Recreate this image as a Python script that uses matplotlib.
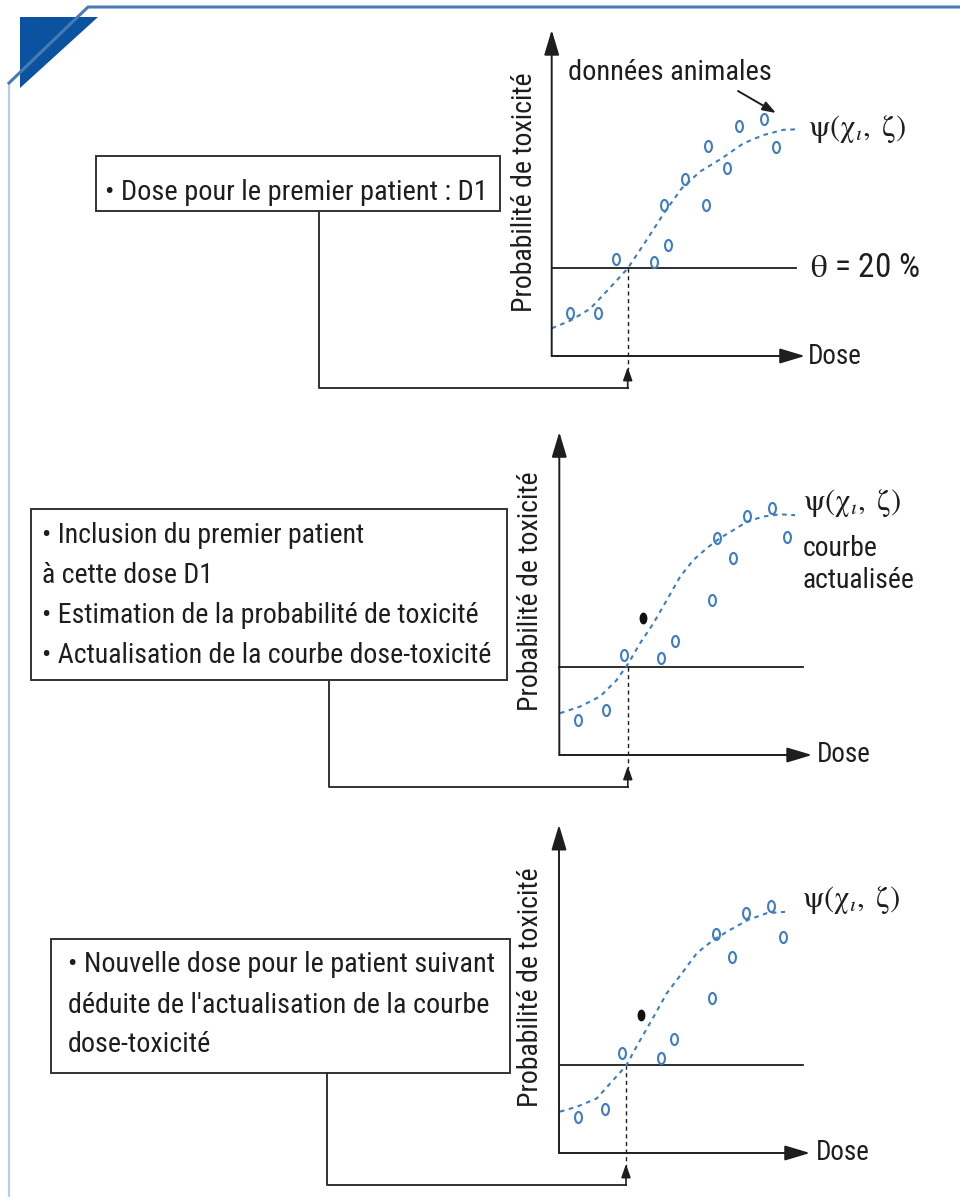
import matplotlib
matplotlib.use('Agg')
import matplotlib.pyplot as plt
from matplotlib import font_manager as fm
from matplotlib.path import Path
from matplotlib.transforms import Affine2D
from matplotlib.patches import Polygon, Rectangle

# ---------------- data (dose in arbitrary units, probability of toxicity) ----------------
THETA = 0.20                      # target toxicity threshold
D1 = [3.04, 2.74, 2.68]           # dose where the curve crosses theta, per panel

# panel 1 : animal data + initial curve
p1_dose = [0.73, 1.85, 2.57, 4.09, 4.65, 4.49, 6.17, 5.33, 6.25, 7.01, 7.49, 8.49, 8.97]
p1_tox = [0.098, 0.098, 0.220, 0.214, 0.252, 0.343, 0.343, 0.402, 0.477, 0.427, 0.523, 0.539, 0.475]
p1_curve_dose = [0.0, 0.73, 1.53, 2.33, 3.04, 3.80, 4.53, 5.20, 5.93, 6.80, 7.66, 8.46, 9.26, 9.73]
p1_curve_tox = [0.063, 0.080, 0.107, 0.155, 0.199, 0.264, 0.328, 0.381, 0.419, 0.449, 0.483, 0.502, 0.514, 0.515]

# panel 2 : first patient included, updated curve
p2_dose = [0.75, 1.87, 2.59, 4.07, 4.63, 6.11, 6.95, 6.31, 7.51, 8.51, 9.11]
p2_tox = [0.080, 0.102, 0.227, 0.220, 0.259, 0.352, 0.448, 0.493, 0.543, 0.561, 0.495]
p2_patient = (3.35, 0.311)
p2_curve_dose = [0.03, 0.83, 1.63, 2.29, 2.76, 3.23, 3.76, 4.30, 4.83, 5.36, 5.90, 6.43, 6.96, 7.50, 8.16, 8.83, 9.43]
p2_curve_tox = [0.095, 0.110, 0.133, 0.170, 0.208, 0.254, 0.299, 0.352, 0.405, 0.443, 0.470, 0.493, 0.511, 0.530, 0.542, 0.547, 0.545]

# panel 3 : next dose deduced
p3_dose = [0.76, 1.84, 2.52, 4.08, 4.60, 6.12, 6.92, 6.28, 7.48, 8.48, 8.96]
p3_tox = [0.082, 0.100, 0.227, 0.216, 0.259, 0.352, 0.445, 0.498, 0.545, 0.561, 0.491]
p3_patient = (3.28, 0.314)
p3_curve_dose = [0.04, 0.71, 1.51, 2.17, 2.68, 3.17, 3.71, 4.31, 4.91, 5.51, 6.17, 6.84, 7.57, 8.31, 9.04]
p3_curve_tox = [0.094, 0.105, 0.124, 0.166, 0.198, 0.249, 0.302, 0.363, 0.408, 0.454, 0.484, 0.507, 0.530, 0.545, 0.548]

box1_lines = ["• Dose pour le premier patient : D1"]
box2_lines = ["• Inclusion du premier patient", "à cette dose D1",
              "• Estimation de la probabilité de toxicité",
              "• Actualisation de la courbe dose-toxicité"]
box3_lines = ["• Nouvelle dose pour le patient suivant",
              "déduite de l'actualisation de la courbe", "dose-toxicité"]
ylabel = "Probabilité de toxicité"
xlabel = "Dose"

# ---------------- style / layout ----------------
W, H = 960, 1197
SX, SY = 25.0, 440.0   # pixels per dose unit / per probability unit
BLUE = '#3f7dc0'
INK = '#1e1e1e'

avail = {f.name for f in fm.fontManager.ttflist}
FONT = 'Liberation Sans'
for cand in ['Roboto Condensed', 'Open Sans Condensed', 'Noto Sans Condensed',
             'Liberation Sans Narrow', 'Arial Narrow']:
    if cand in avail:
        FONT = cand
        break
plt.rcParams['font.family'] = [FONT, 'DejaVu Sans']
plt.rcParams['mathtext.fontset'] = 'stix'

fig = plt.figure(figsize=(W / 100, H / 100), dpi=100)
fig.patch.set_facecolor('white')
ov = fig.add_axes([0, 0, 1, 1])
ov.set_xlim(0, W)
ov.set_ylim(H, 0)
ov.axis('off')

# decoration top-left
ov.plot([9, 9], [83, H], color='#bccde0', lw=1.6, solid_capstyle='butt')
ov.plot([9, 88, W], [83, 7, 7], color='#4a7ab4', lw=2.2)
ov.add_patch(Polygon([(20, 17), (98, 17), (20, 88)], closed=True, color='#0b53a0', lw=0))

# oval "o" marker
oval = Path.unit_circle().transformed(Affine2D().scale(0.62, 1.0))

panels = [
    dict(x0=551.7, y0=356, xmax=10.13, ymax=0.741, thr_end=9.77,
         dose=p1_dose, tox=p1_tox, cd=p1_curve_dose, ct=p1_curve_tox, pat=None),
    dict(x0=559.3, y0=755, xmax=10.11, ymax=0.734, thr_end=9.75,
         dose=p2_dose, tox=p2_tox, cd=p2_curve_dose, ct=p2_curve_tox, pat=p2_patient),
    dict(x0=559.0, y0=1153, xmax=10.04, ymax=0.746, thr_end=9.76,
         dose=p3_dose, tox=p3_tox, cd=p3_curve_dose, ct=p3_curve_tox, pat=p3_patient),
]

axes = []
for i, P in enumerate(panels):
    wpx, hpx = P['xmax'] * SX, P['ymax'] * SY
    ax = fig.add_axes([P['x0'] / W, (H - P['y0']) / H, wpx / W, hpx / H])
    ax.set_xlim(0, P['xmax'])
    ax.set_ylim(0, P['ymax'])
    ax.axis('off')
    ax.patch.set_visible(False)
    # axes arrows
    arr = dict(arrowstyle='-|>,head_length=1.1,head_width=0.33', color=INK, lw=1.4,
               shrinkA=0, shrinkB=0, mutation_scale=14)
    ax.annotate('', xy=(P['xmax'], 0), xytext=(0, 0), arrowprops=arr, annotation_clip=False)
    ax.annotate('', xy=(0, P['ymax']), xytext=(0, 0), arrowprops=arr, annotation_clip=False)
    # threshold line
    ax.plot([0, P['thr_end']], [THETA, THETA], color=INK, lw=1.3, clip_on=False)
    # dashed vertical at D1
    ax.plot([D1[i], D1[i]], [THETA, -0.03], color=INK, lw=1.0, ls=(0, (3, 2.5)), clip_on=False)
    # curve
    ax.plot(P['cd'], P['ct'], color=BLUE, lw=1.5, ls=(0, (2.2, 2.2)), clip_on=False)
    # data points
    ax.plot(P['dose'], P['tox'], ls='none', marker=oval, ms=8, mfc='none', mec=BLUE,
            mew=1.5, clip_on=False)
    if P['pat'] is not None:
        ax.plot([P['pat'][0]], [P['pat'][1]], ls='none', marker=oval, ms=7.5,
                mfc='#111111', mec='#111111', clip_on=False)
    axes.append(ax)

fig.canvas.draw()
R = fig.canvas.get_renderer()


def fit(t, target):
    bb = t.get_window_extent(R)
    t.set_fontsize(t.get_fontsize() * target / bb.width)


# ---- boxes and connectors ----
boxes = [
    dict(rect=(96, 156, 500, 211), lines=box1_lines, x=105, base=[200], target=383,
         cx=319, cy=388),
    dict(rect=(31, 509, 507, 680), lines=box2_lines, x=42, base=[543, 583, 623, 663],
         target=451, cx=329, cy=787),
    dict(rect=(51, 939, 510, 1073), lines=box3_lines, x=68, base=[972, 1013, 1052],
         target=427, cx=327, cy=1185),
]
for i, B in enumerate(boxes):
    x1, y1, x2, y2 = B['rect']
    ov.add_patch(Rectangle((x1, y1), x2 - x1, y2 - y1, fill=False, ec='#333333', lw=1.4))
    ts = [ov.text(B['x'], b, s, fontsize=18, color=INK, ha='left', va='baseline')
          for s, b in zip(B['lines'], B['base'])]
    longest = max(ts, key=lambda t: t.get_window_extent(R).width)
    scale = B['target'] / longest.get_window_extent(R).width
    for t in ts:
        t.set_fontsize(18 * scale)
    # connector
    P = panels[i]
    xd = P['x0'] + D1[i] * SX
    ov.plot([B['cx'], B['cx'], xd], [y2, B['cy'], B['cy']], color='#333333', lw=1.4)
    ov.annotate('', xy=(xd, B['cy'] - 21), xytext=(xd, B['cy']),
                arrowprops=dict(arrowstyle='-|>,head_length=1.0,head_width=0.35', color=INK,
                                lw=1.2, shrinkA=0, shrinkB=0, mutation_scale=8))

# ---- panel labels ----
ylab_pos = [(524, 192), (531, 591), (531, 987)]
for (x, y) in ylab_pos:
    t = ov.text(x, y, ylabel, rotation=90, ha='center', va='center', fontsize=18, color=INK)
    bb = t.get_window_extent(R)
    t.set_fontsize(18 * 240 / bb.height)

dose_pos = [(808, 356), (817, 755), (816, 1153)]
for (x, y) in dose_pos:
    t = ov.text(x, y, xlabel, ha='left', va='center', fontsize=18, color=INK)
    fit(t, 54)

psi = r'$\mathrm{\psi}(\mathrm{\chi}_{\iota},\ \mathrm{\zeta})$'
psi_pos = [(808, 129), (803, 503), (802, 900)]
for (x, y) in psi_pos:
    t = ov.text(x, y, psi, ha='left', va='center', fontsize=20, color=INK)
    fit(t, 98)

t = ov.text(810, 268, r'$\mathrm{\theta}$ = 20 %', ha='left', va='center', fontsize=20, color=INK)
fit(t, 110)

t = ov.text(670, 72, "données animales", ha='center', va='center', fontsize=18, color=INK)
fit(t, 204)
ov.annotate('', xy=(776, 113), xytext=(738, 91),
            arrowprops=dict(arrowstyle='-|>,head_length=1.0,head_width=0.35', color=INK,
                            lw=1.4, shrinkA=0, shrinkB=0, mutation_scale=8))

t1 = ov.text(803, 548, "courbe", ha='left', va='center', fontsize=18, color=INK)
t2 = ov.text(803, 580, "actualisée", ha='left', va='center', fontsize=18, color=INK)
sc = 112 / t2.get_window_extent(R).width
t1.set_fontsize(18 * sc)
t2.set_fontsize(18 * sc)

fig.savefig('out.png', dpi=100, facecolor='white')
